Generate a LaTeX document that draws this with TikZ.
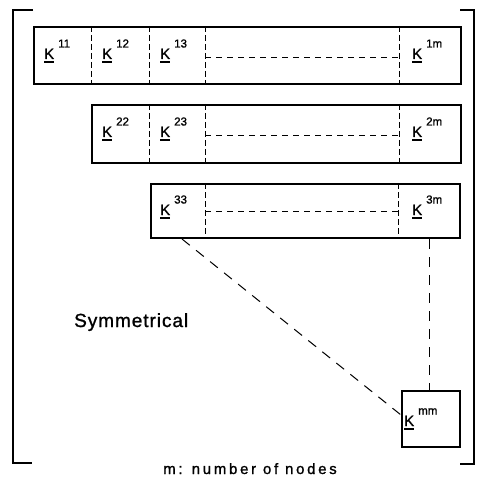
\documentclass[tikz,border=0pt]{standalone}
\usepackage{fontspec}
\setmainfont{Liberation Sans}
\newfontfamily\lettering[FakeBold=1.2]{Liberation Sans}
\newfontfamily\widesans[LetterSpace=5,FakeBold=1.2]{Liberation Sans}
\newfontfamily\widersans[LetterSpace=18,FakeBold=1.2]{Liberation Sans}
\usetikzlibrary{calc}

% underlined matrix symbol K with a raised index
\newcommand\Kblock[1]{%
  \setbox0\hbox{\lettering\fontsize{15}{15}\selectfont K}%
  \rlap{\rule[-4pt]{\wd0}{1.8pt}}\box0\hspace{4pt}%
  \raisebox{11.5pt}{\lettering\fontsize{11.5}{11.5}\selectfont #1}}

\tikzset{
  x=1pt, y=-1pt,
  rowbox/.style={draw, line width=2pt, rectangle, inner sep=0pt, anchor=north west},
  divider/.style={line width=1pt, dash pattern=on 6pt off 3pt},
  filler/.style={line width=1pt, dash pattern=on 6pt off 5pt},
  link/.style={line width=1pt, dash pattern=on 10pt off 8pt},
  bracket/.style={line width=2pt},
  klabel/.style={anchor=base west, inner sep=0pt}
}

\begin{document}
\begin{tikzpicture}
\useasboundingbox (0,0) rectangle (476,478);

% the three stored rows and the last diagonal block
\node[rowbox, minimum width=427pt, minimum height=57pt] (r1) at (33,26) {};
\node[rowbox, minimum width=369pt, minimum height=58pt] (r2) at (91,104) {};
\node[rowbox, minimum width=309pt, minimum height=54pt] (r3) at (150,183) {};
\node[rowbox, minimum width=58pt, minimum height=56pt] (mm) at (401,390) {};

% column separators
\draw[divider] (91,26) -- (91,83);
\draw[divider] (149,26) -- (149,83);
\draw[divider] (205,26) -- (205,83);
\draw[divider] (399,26) -- (399,83);
\draw[divider] (149,104) -- (149,162);
\draw[divider] (205,104) -- (205,162);
\draw[divider] (399,104) -- (399,162);
\draw[divider] (205,183) -- (205,237);
\draw[divider] (398,183) -- (398,237);

% omitted columns
\draw[filler] (205,58) -- (399,58);
\draw[filler] (205,136) -- (399,136);
\draw[filler] (205,211) -- (398,211);

% block labels
\node[klabel] (k11) at (44,59) {\Kblock{11}};
\node[klabel] (k12) at (102,59) {\Kblock{12}};
\node[klabel] (k13) at (160,59) {\Kblock{13}};
\node[klabel] (k1m) at (412,59) {\Kblock{1m}};
\node[klabel] (k22) at (102,137) {\Kblock{22}};
\node[klabel] (k23) at (160,137) {\Kblock{23}};
\node[klabel] (k2m) at (412,137) {\Kblock{2m}};
\node[klabel] (k33) at (160,215) {\Kblock{33}};
\node[klabel] (k3m) at (412,215) {\Kblock{3m}};
\node[klabel] (kmm) at (404,426) {\Kblock{mm}};

% diagonal and last column continue down to the last block
\coordinate (diagtop) at ($(r3.south west)+(32,0)$);
\draw[link] (diagtop) -- ([yshift=4pt]mm.west);
\draw[link] ([xshift=-2pt]mm.north |- r3.south) -- ([xshift=-2pt]mm.north);

% matrix brackets
\draw[bracket] (33,10) -- (13,10) -- (13,463) -- (32,463);
\draw[bracket] (460,10) -- (474,10) -- (474,464) -- (460,464);

\node[anchor=base west, inner sep=0pt, font=\widesans\fontsize{19}{19}\selectfont] (sym) at (74,327) {Symmetrical};
\node[anchor=base, inner sep=0pt, font=\widersans\fontsize{15}{15}\selectfont] (note) at (250,474) {m: number of nodes};
\end{tikzpicture}
\end{document}
